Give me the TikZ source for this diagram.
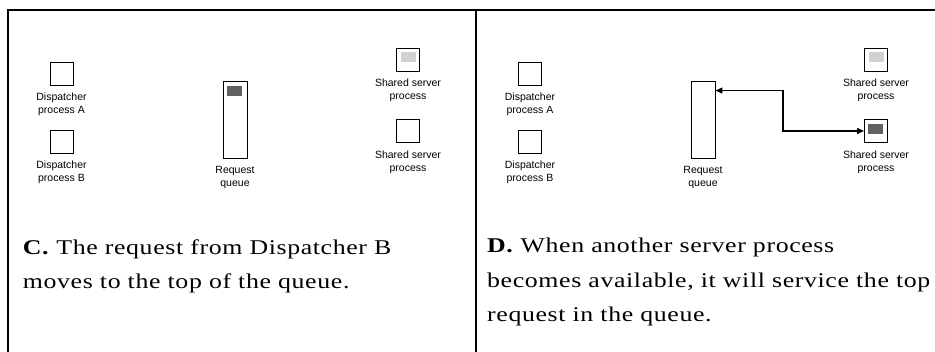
\documentclass[tikz,border=0pt]{standalone}
\usepackage{fontspec}
\setsansfont{Liberation Sans}
\newfontfamily\capfont[FakeStretch=1.23,LetterSpace=3]{Liberation Serif}
\usetikzlibrary{arrows.meta,positioning}

\tikzset{
  frame/.style={line width=2.2pt},
  procbox/.style={draw, line width=0.9pt, minimum width=23pt, minimum height=23pt, inner sep=0pt},
  queuebox/.style={draw, line width=0.9pt, minimum width=24pt, minimum height=77pt, inner sep=0pt},
  lbl/.style={font=\sffamily\fontsize{10.5}{13}\selectfont, align=center, inner sep=0pt, anchor=north},
  % multi-line captions are anchored on the baseline of their last line
  caption/.style={font=\capfont\fontsize{21}{34.5}\selectfont, align=left, inner sep=0pt, anchor=base west},
  busy/.style={fill=black!62},
  idle/.style={fill=black!18},
  link/.style={line width=1.3pt, {Triangle[length=7pt,width=6pt]}-{Triangle[length=7pt,width=6pt]}}
}

\begin{document}
\begin{tikzpicture}[x=1pt,y=-1pt]
\useasboundingbox (0,0) rectangle (935,352);

% panel frame
\draw[frame] (935,10) -- (7.7,10) -- (7.7,352);
\draw[frame] (476,10) -- (476,352);

% ---- panel C ----
\node[procbox] (dA) at (61.5,73.5) {};
\node[lbl, below=7.7pt of dA] (dAl) {Dispatcher\\process A};
\node[procbox] (dB) at (61.5,141.5) {};
\node[lbl, below=7.7pt of dB] (dBl) {Dispatcher\\process B};
\node[queuebox] (qC) at (235,119.5) {};
\node[lbl, below=7.7pt of qC] (qCl) {Request\\queue};
\node[procbox] (s1C) at (408,59.5) {};
\node[lbl, below=7.7pt of s1C] (s1Cl) {Shared server\\process};
\node[procbox] (s2C) at (408,131) {};
\node[lbl, below=7.7pt of s2C] (s2Cl) {Shared server\\process};

\fill[busy] ([shift={(4pt,-5pt)}]qC.north west) rectangle ++(15,10);
\fill[idle] ([shift={(5pt,-4pt)}]s1C.north west) rectangle ++(15,10);

\node[caption] (capC) at (22.7,289) {\textbf{C.} The request from Dispatcher B\\moves to the top of the queue.};

% ---- panel D ----
\node[procbox] (dA2) at (530,73.5) {};
\node[lbl, below=7.7pt of dA2] (dA2l) {Dispatcher\\process A};
\node[procbox] (dB2) at (530,141.5) {};
\node[lbl, below=7.7pt of dB2] (dB2l) {Dispatcher\\process B};
\node[queuebox] (qD) at (703,119.5) {};
\node[lbl, below=7.7pt of qD] (qDl) {Request\\queue};
\node[procbox] (s1D) at (876,59.5) {};
\node[lbl, below=7.7pt of s1D] (s1Dl) {Shared server\\process};
\node[procbox] (s2D) at (876,131) {};
\node[lbl, below=7.7pt of s2D] (s2Dl) {Shared server\\process};

\fill[idle] ([shift={(5pt,-4pt)}]s1D.north west) rectangle ++(15,10);
\fill[busy] ([shift={(4pt,-5pt)}]s2D.north west) rectangle ++(15,10);

\coordinate (qtop) at ([yshift=-10pt]qD.north east);
\coordinate (bend) at ([xshift=-81pt]s2D.west);
\draw[link] (qtop) -| (bend) -- (s2D.west);

\node[caption] (capD) at (487,322) {\textbf{D.} When another server process\\becomes available, it will service the top\\request in the queue.};
\end{tikzpicture}
\end{document}
